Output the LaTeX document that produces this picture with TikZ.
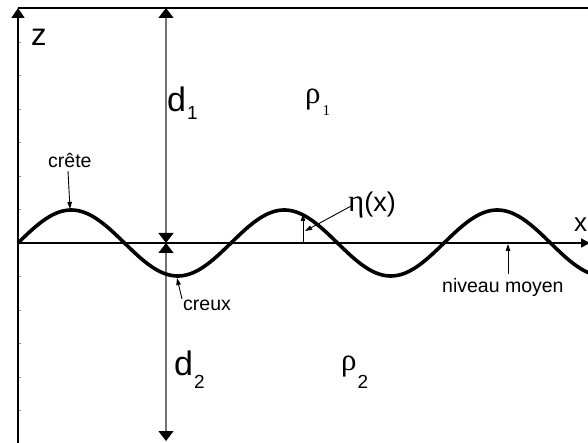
\documentclass[tikz,border=0pt]{standalone}
\usepackage{fontspec}
\setmainfont{Liberation Sans}
\newfontfamily\grk{Liberation Serif}
\usetikzlibrary{arrows.meta}
\newcommand{\fs}[1]{\fontsize{#1}{#1}\selectfont}
\begin{document}
\begin{tikzpicture}[x=1pt,y=-1pt,
  axisline/.style={line width=1.6pt, black},
  dimline/.style={line width=1.3pt, black!55, {Triangle[length=10pt,width=15pt,color=black]}-{Triangle[length=10pt,width=15pt,color=black]}},
  tickmark/.style={line width=0.5pt, black!45},
  wave/.style={line width=3.6pt, black},
  ptr/.style={line width=0.9pt, black, -{Triangle[length=7pt,width=4.5pt]}},
  lbl/.style={inner sep=0pt, anchor=base west}
]
\useasboundingbox (0,0) rectangle (588,443);
\fill[white] (0,0) rectangle (588,443);
% coordinates
\coordinate (O) at (18,243);
\coordinate (Ztop) at (18,8);
\coordinate (Zbot) at (18,445);
\coordinate (Xend) at (590,243);
\coordinate (TopR) at (590,8);
\coordinate (Dtop) at (166,8);
\coordinate (Dmid) at (166,243);
\coordinate (Dbot) at (166,441);
% ticks on z axis
\foreach \k in {1,...,7} {\draw[tickmark] (18,243-33.5*\k) -- ++(2.5,0);}
\foreach \k in {1,...,5} {\draw[tickmark] (18,243+33.5*\k) -- ++(2.5,0);}
% frame and axes
\draw[axisline] (Ztop) -- (TopR);
\draw[axisline,-{Triangle[length=10pt,width=13pt]}] (Zbot) -- (Ztop);
\draw[axisline,-{Triangle[length=9pt,width=9pt]}] (O) -- (Xend);
% depth arrows
\draw[dimline] (Dmid) -- (Dtop);
\draw[dimline] (Dmid) -- (Dbot);
% wave
\draw[wave] plot[domain=18:600, samples=240] (\x, {243-33*sin(1.690141*(\x-18))});
% labels
\node[lbl] (z) at (31,46) {\fs{31}z};
\node[lbl] (x) at (574,232) {\fs{26}x};
\node[lbl] (d1) at (167,112) {\fs{34}d\hspace{1pt}\raisebox{-8pt}{\fs{19}1}};
\node[lbl] (d2) at (174,375) {\fs{34}d\hspace{1pt}\raisebox{-13pt}{\fs{19}2}};
\node[lbl] (r1) at (305,104) {\fs{31}\grk ρ\hspace{2pt}\raisebox{-12pt}{\fs{15}1}};
\node[lbl] (r2) at (341,370) {\fs{31}\grk ρ\hspace{1pt}\raisebox{-18pt}{\fs{19}\normalfont 2}};
\node[lbl] (eta) at (348,212) {{\fs{31}\grk η}\fs{27}(x)};
\node[lbl] (crete) at (48,168) {\fs{19.5}crête};
\node[lbl] (creux) at (183,310) {\fs{19.5}creux};
\node[lbl] (niveau) at (442,292) {\fs{19.5}niveau moyen};
% pointer targets
\coordinate (crestpt) at (70,209);
\coordinate (troughpt) at (177,278);
\coordinate (etapt) at (305,231);
\coordinate (etabase) at (303,243);
\coordinate (etatop) at (303,214);
\coordinate (nivbase) at (508,274);
\coordinate (nivtip) at (508,244);
\coordinate (crstart) at (68,171);
\coordinate (custart) at (182,299);
\coordinate (etastart) at (353,205);
% pointers
\draw[ptr] (crstart) -- (crestpt);
\draw[ptr] (custart) -- (troughpt);
\draw[ptr] (etastart) -- (etapt);
\draw[ptr] (etabase) -- (etatop);
\draw[ptr] (nivbase) -- (nivtip);
\end{tikzpicture}
\end{document}
